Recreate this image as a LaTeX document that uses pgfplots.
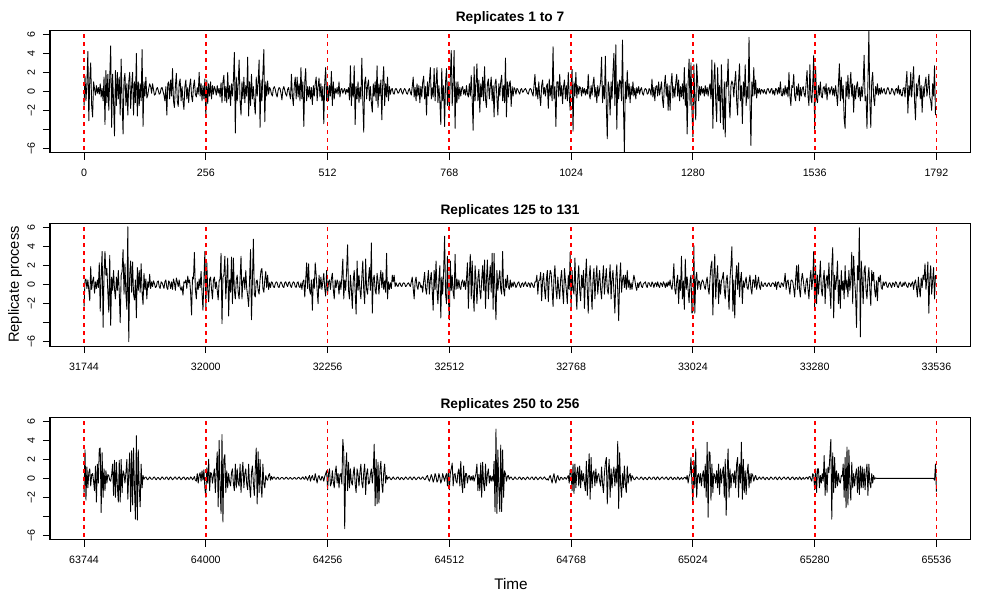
\documentclass[border=0pt]{standalone}
\usepackage{fontspec}
\setmainfont{Liberation Sans}
\usepackage{pgfplots}
\pgfplotsset{compat=1.18}
\definecolor{Rred}{RGB}{255,0,0}
\pgfplotsset{
  rpanel/.style={
    scale only axis, width=690pt, height=92pt, anchor=north west,
    ymin=-6.46, ymax=6.46,
    ytick={-6,-4,-2,0,2,4,6}, yticklabels={−6,,−2,0,2,4,6},
    xtick pos=left, ytick pos=left, scaled x ticks=false,
    tick align=outside, major tick length=5.25pt,
    tick style={black, line width=0.6pt},
    axis line style={black, line width=0.75pt},
    ticklabel style={font=\fontsize{8}{9}\selectfont},
    xticklabel style={yshift=-3.75pt},
    yticklabel style={xshift=-6pt, rotate=90, anchor=base},
    title style={font=\bfseries\fontsize{10.3}{12}\selectfont, at={(0.5,1)}, anchor=base, yshift=0.5pt},
  },
  rline/.style={draw=Rred, solid, dash pattern=on 3pt off 3pt, line width=1.35pt, forget plot},
  rdata/.style={black, line width=0.65pt, line join=round, mark=none},
}
\begin{document}
\begin{tikzpicture}
\path[use as bounding box] (0,0) rectangle (750pt,-450pt);
% ---------------- Panel 1 ----------------
\begin{axis}[rpanel, at={(37.5pt,-22.5pt)}, title={Replicates 1 to 7},
  xmin=-71.6, xmax=1862.6, xtick={0,256,512,768,1024,1280,1536,1792},
  xticklabels={0,256,512,768,1024,1280,1536,1792}]
\addplot[rdata] table[x expr=\coordindex*2, y index=0, header=false, row sep=\\] {
-1.5\\ 1.6\\ -1.0\\ 0.8\\ 4.2\\ -3.1\\ 1.2\\ 3.0\\
-1.5\\ -2.7\\ 1.0\\ 0.3\\ -0.4\\ 0.6\\ -0.2\\ 0.4\\
-0.3\\ 0.8\\ -0.6\\ 0.3\\ -1.0\\ 1.5\\ -3.5\\ 2.2\\
-1.2\\ 1.8\\ -2.0\\ 1.5\\ 4.8\\ -3.8\\ 1.8\\ -1.0\\
-4.7\\ 2.2\\ -1.5\\ 2.0\\ -0.8\\ 1.5\\ -2.5\\ 3.4\\
-1.0\\ -4.5\\ 1.2\\ 1.9\\ -1.5\\ 0.8\\ -2.5\\ 1.0\\
2.0\\ -1.8\\ 0.5\\ 2.0\\ -2.5\\ 1.0\\ -1.2\\ 4.0\\
-2.6\\ 1.0\\ -1.5\\ 0.8\\ -1.0\\ 4.4\\ -3.7\\ 1.0\\
-0.5\\ 1.5\\ -0.7\\ -0.4\\ 0.3\\ 0.8\\ 0.5\\ -0.2\\
0.8\\ 0.2\\ -0.4\\ -0.3\\ 0.2\\ 0.4\\ 0.1\\ -0.3\\
-0.2\\ 0.3\\ 0.4\\ 0.0\\ -0.4\\ -1.0\\ 0.5\\ -2.5\\
0.8\\ 1.0\\ -0.8\\ 1.2\\ -0.5\\ 2.4\\ -1.0\\ -1.7\\
0.5\\ 1.9\\ -1.0\\ -1.6\\ 0.8\\ 1.3\\ -1.0\\ 0.5\\
-1.0\\ -1.9\\ 0.5\\ 1.2\\ -0.8\\ 0.4\\ -1.2\\ 0.6\\
1.3\\ -0.5\\ -1.1\\ 0.5\\ 1.2\\ -0.3\\ -0.6\\ 0.4\\
-0.3\\ 2.0\\ -0.5\\ 0.8\\ -1.0\\ 0.6\\ -0.8\\ 1.3\\
-2.7\\ 1.2\\ -1.3\\ 0.8\\ -0.5\\ 1.0\\ -0.8\\ 0.6\\
-0.3\\ 0.5\\ 0.2\\ -0.4\\ 0.6\\ -0.2\\ 0.3\\ -0.6\\
0.9\\ -1.2\\ 1.0\\ 1.7\\ -1.0\\ 0.5\\ -1.2\\ 2.0\\
-0.8\\ 0.6\\ -1.5\\ 0.8\\ -0.5\\ 1.2\\ 4.1\\ -4.4\\
1.5\\ -1.0\\ 0.8\\ 3.3\\ -1.0\\ -2.5\\ 1.0\\ -0.8\\
1.5\\ -1.2\\ 0.6\\ -0.5\\ 3.6\\ -2.6\\ 1.0\\ -1.5\\
1.8\\ -0.8\\ 0.5\\ -1.2\\ -2.4\\ 1.5\\ -0.5\\ 1.0\\
3.3\\ -3.8\\ 1.2\\ -1.0\\ 2.0\\ 4.4\\ -3.2\\ 1.0\\
-0.5\\ 1.1\\ -0.3\\ 0.4\\ 0.2\\ -0.3\\ -0.5\\ 0.3\\
0.5\\ 0.2\\ -0.3\\ -0.6\\ 0.1\\ 0.4\\ 0.3\\ -0.2\\
-0.9\\ 0.2\\ 0.5\\ 0.1\\ -0.3\\ -0.5\\ 0.2\\ 0.4\\
-0.3\\ -0.8\\ 1.8\\ -0.5\\ -1.5\\ 0.6\\ 1.5\\ -0.8\\
1.5\\ -0.6\\ 0.8\\ -1.0\\ 2.5\\ -0.8\\ 1.0\\ -3.7\\
1.0\\ 2.4\\ -1.0\\ 0.5\\ -0.6\\ 0.5\\ -0.8\\ 0.4\\
-1.4\\ 0.6\\ -0.5\\ 0.8\\ 1.5\\ -1.0\\ 0.5\\ 1.4\\
-0.6\\ 0.8\\ -1.0\\ 0.5\\ -3.4\\ 1.0\\ 2.5\\ -1.0\\
0.8\\ -1.0\\ 0.6\\ -0.5\\ 2.1\\ -1.5\\ 1.0\\ -0.8\\
0.3\\ -0.2\\ 0.4\\ -0.3\\ 1.0\\ -0.6\\ 0.2\\ 0.3\\
-0.2\\ 0.1\\ 0.3\\ -0.3\\ 0.2\\ -0.1\\ 0.4\\ -0.9\\
2.7\\ -1.5\\ 0.8\\ -0.6\\ 2.7\\ -3.5\\ 0.5\\ -0.8\\
1.0\\ -1.2\\ 0.4\\ -0.8\\ 3.5\\ -1.0\\ -4.3\\ 1.0\\
1.5\\ -0.8\\ 0.6\\ 1.2\\ -1.0\\ 0.5\\ -1.2\\ -2.2\\
0.8\\ -0.5\\ 1.0\\ -1.0\\ 2.7\\ -1.7\\ 0.8\\ -0.5\\
1.2\\ -3.0\\ 1.0\\ 2.6\\ -1.5\\ 0.8\\ -0.6\\ 1.5\\
-1.0\\ 0.5\\ -0.3\\ 0.2\\ 0.3\\ -0.2\\ -0.3\\ 0.2\\
0.3\\ 0.1\\ -0.2\\ -0.1\\ 0.2\\ 0.3\\ -0.1\\ -0.3\\
0.1\\ 0.3\\ 0.1\\ -0.2\\ -0.3\\ 0.1\\ 0.3\\ -0.1\\
-0.4\\ 0.5\\ 1.5\\ -0.6\\ 0.4\\ -1.0\\ 0.8\\ -0.5\\
0.6\\ -1.2\\ 0.5\\ -0.6\\ 1.0\\ 1.6\\ -0.8\\ 0.5\\
-2.5\\ 1.0\\ -0.5\\ 1.0\\ 2.5\\ -0.8\\ 0.4\\ -0.6\\
2.4\\ -1.0\\ 0.8\\ 2.5\\ -1.2\\ 0.6\\ -1.0\\ -3.5\\
2.4\\ -1.0\\ 0.6\\ -3.7\\ 1.0\\ 2.4\\ -1.5\\ 1.0\\
-2.0\\ 1.5\\ 4.3\\ -1.5\\ 0.8\\ 4.3\\ -3.9\\ 1.0\\
-1.2\\ 1.0\\ -0.8\\ 0.4\\ -0.5\\ 0.3\\ 0.5\\ -0.3\\
0.2\\ -0.4\\ 0.6\\ -0.3\\ -0.6\\ 0.8\\ -0.5\\ 1.7\\
-0.8\\ -4.1\\ 2.6\\ -1.0\\ 0.8\\ 2.9\\ -1.0\\ 1.2\\
-2.2\\ 0.8\\ -0.6\\ 1.5\\ -1.0\\ 2.6\\ -0.8\\ -1.7\\
0.8\\ 1.3\\ -0.8\\ 0.5\\ 1.5\\ -1.0\\ 0.6\\ -2.7\\
0.8\\ 1.3\\ -0.7\\ -2.5\\ 0.8\\ -0.5\\ 1.0\\ 1.7\\
-1.0\\ 0.6\\ -1.2\\ 3.5\\ -2.7\\ 1.0\\ -0.6\\ 0.8\\
1.1\\ -1.6\\ 0.5\\ -0.5\\ 0.4\\ 0.2\\ -0.3\\ 0.3\\
0.2\\ -0.1\\ -0.3\\ 0.2\\ 0.3\\ -0.1\\ 0.0\\ 0.2\\
0.3\\ 0.1\\ -0.2\\ -0.3\\ 0.1\\ 0.3\\ 0.2\\ -0.2\\
-0.5\\ 0.6\\ 1.8\\ -0.5\\ 0.4\\ -0.8\\ 1.0\\ -0.5\\
-1.5\\ 0.6\\ 1.2\\ -0.3\\ 0.4\\ -0.5\\ 0.5\\ 0.8\\
-1.8\\ 1.3\\ -0.5\\ 0.6\\ -1.0\\ 4.7\\ -0.8\\ 0.5\\
-3.7\\ 1.0\\ 1.0\\ -0.6\\ 1.8\\ -0.5\\ 0.6\\ -1.3\\
0.5\\ 1.2\\ -0.8\\ 0.6\\ -1.0\\ 2.0\\ -0.5\\ -2.0\\
0.8\\ 2.3\\ -4.2\\ 1.0\\ -0.5\\ 2.0\\ -0.7\\ 0.6\\
-0.3\\ 0.5\\ 0.3\\ -0.5\\ 0.4\\ -0.2\\ 0.3\\ -0.4\\
0.2\\ -0.3\\ 1.8\\ -0.3\\ -0.8\\ 0.6\\ -0.4\\ 0.8\\
1.5\\ -0.6\\ 0.4\\ -1.2\\ 0.6\\ -0.5\\ 0.3\\ 1.0\\
3.6\\ -1.2\\ 0.6\\ -0.8\\ 3.7\\ -1.5\\ -5.0\\ 1.0\\
0.3\\ -2.5\\ 1.0\\ -0.8\\ 2.0\\ 4.0\\ -1.5\\ 4.9\\
-4.0\\ 1.0\\ -0.8\\ 1.2\\ 1.0\\ -1.0\\ 5.4\\ -1.5\\
-6.4\\ 1.0\\ -0.8\\ 2.2\\ -0.6\\ 0.8\\ -1.2\\ 0.5\\
-0.4\\ 1.0\\ -0.5\\ 0.3\\ -0.8\\ 0.4\\ -0.2\\ 0.5\\
-0.3\\ 0.2\\ 0.4\\ -0.2\\ -0.4\\ 0.1\\ 0.3\\ 0.2\\
-0.3\\ -0.2\\ 0.3\\ 0.1\\ -0.4\\ 1.3\\ -0.6\\ 0.4\\
-1.0\\ 0.5\\ 0.6\\ -0.5\\ 1.0\\ -0.4\\ 0.3\\ 1.0\\
-0.8\\ -1.7\\ 0.6\\ 1.7\\ -0.5\\ 0.8\\ -2.0\\ 0.6\\
-2.0\\ 0.8\\ 1.9\\ -0.7\\ 0.5\\ -0.6\\ 0.9\\ 1.8\\
-0.5\\ 1.2\\ -1.0\\ 0.5\\ -0.6\\ 0.8\\ -0.8\\ 2.5\\
-1.5\\ 0.8\\ -4.5\\ 1.0\\ 3.4\\ -1.5\\ 3.0\\ -2.0\\
-4.8\\ 2.8\\ -1.0\\ -3.0\\ 2.9\\ 1.0\\ -1.0\\ 0.5\\
-0.4\\ 0.5\\ -0.2\\ 0.3\\ -0.5\\ 0.6\\ -0.3\\ 0.4\\
-0.5\\ 0.3\\ 0.8\\ -0.8\\ 3.3\\ -3.9\\ 1.0\\ 3.0\\
-1.0\\ -3.2\\ 2.5\\ -1.0\\ 0.6\\ -3.3\\ 2.8\\ -1.0\\
-4.0\\ 1.0\\ -4.8\\ 1.0\\ 0.5\\ 3.4\\ -1.0\\ -2.8\\
0.6\\ 1.1\\ 0.8\\ -0.6\\ 1.0\\ 2.1\\ -1.0\\ -2.5\\
1.0\\ 2.9\\ -1.0\\ 0.6\\ -3.4\\ 1.0\\ -0.6\\ 2.8\\
-1.5\\ 0.5\\ -0.8\\ 5.7\\ -1.0\\ -5.7\\ 1.0\\ -0.5\\
2.5\\ -0.4\\ 1.2\\ -0.7\\ 0.3\\ -0.2\\ 0.3\\ -0.3\\
0.2\\ 0.1\\ -0.2\\ 0.2\\ -0.1\\ -0.3\\ 0.2\\ 0.3\\
0.0\\ -0.2\\ 0.2\\ 0.3\\ -0.3\\ 0.1\\ -0.4\\ 0.3\\
0.2\\ -0.3\\ 0.4\\ -0.2\\ 1.0\\ -0.4\\ -0.5\\ 0.3\\
-0.4\\ 0.6\\ -0.3\\ 0.4\\ -0.6\\ 2.0\\ -0.5\\ -1.5\\
0.6\\ 0.4\\ 1.8\\ -0.5\\ -1.0\\ 0.5\\ -0.4\\ 0.8\\
-1.0\\ 0.4\\ -0.5\\ 0.3\\ 0.5\\ -0.3\\ -0.6\\ 0.8\\
2.2\\ -0.5\\ -1.5\\ 2.8\\ -0.6\\ -1.2\\ 0.8\\ 3.8\\
-4.0\\ 2.6\\ -0.8\\ -1.2\\ 0.6\\ -0.4\\ 1.0\\ -0.5\\
-0.7\\ 0.4\\ 0.5\\ -0.3\\ 0.8\\ -0.9\\ 0.3\\ 0.4\\
-0.3\\ 0.2\\ 0.5\\ -0.4\\ 0.3\\ -0.5\\ 0.6\\ -0.3\\
-1.5\\ 0.8\\ 2.9\\ -1.0\\ 1.5\\ -0.8\\ 0.6\\ -2.9\\
-3.9\\ 1.0\\ -0.6\\ 1.7\\ -0.8\\ 0.5\\ 2.0\\ -0.5\\
0.8\\ -2.2\\ 0.6\\ -0.8\\ 0.5\\ 1.0\\ -0.6\\ 0.4\\
-1.0\\ 0.5\\ -0.6\\ 0.8\\ 3.8\\ -1.0\\ -0.5\\ -3.9\\
1.0\\ 6.3\\ -1.0\\ -3.8\\ 1.0\\ 2.0\\ -0.6\\ -1.5\\
0.5\\ -0.3\\ 0.8\\ -0.4\\ 0.3\\ -0.3\\ 0.4\\ -0.2\\
0.1\\ 0.3\\ -0.2\\ -0.3\\ 0.2\\ 0.4\\ 0.1\\ -0.3\\
-0.2\\ 0.3\\ 0.2\\ -0.1\\ -0.4\\ 0.2\\ 0.3\\ -0.2\\
0.6\\ -0.3\\ 0.2\\ -0.4\\ -0.5\\ 0.3\\ 0.4\\ -0.6\\
0.8\\ 2.1\\ -2.3\\ 0.6\\ -0.5\\ 2.0\\ -0.6\\ 1.0\\
2.6\\ -1.0\\ -3.0\\ 0.8\\ -0.5\\ 1.0\\ 1.7\\ -0.8\\
0.6\\ -2.2\\ 0.5\\ -0.6\\ 0.8\\ 1.5\\ -0.5\\ 0.4\\
1.8\\ -0.6\\ -1.0\\ -2.0\\ 0.8\\ -0.5\\ 2.7\\ -2.5\\
};
\addplot[rline] coordinates {(0,-7) (0,7)};
\addplot[rline] coordinates {(256,-7) (256,7)};
\addplot[rline] coordinates {(512,-7) (512,7)};
\addplot[rline] coordinates {(768,-7) (768,7)};
\addplot[rline] coordinates {(1024,-7) (1024,7)};
\addplot[rline] coordinates {(1280,-7) (1280,7)};
\addplot[rline] coordinates {(1536,-7) (1536,7)};
\addplot[rline] coordinates {(1792,-7) (1792,7)};
\end{axis}
% ---------------- Panel 2 ----------------
\begin{axis}[rpanel, at={(37.5pt,-167.5pt)}, title={Replicates 125 to 131},
  xmin=31672.4, xmax=33606.6, xtick={31744,32000,32256,32512,32768,33024,33280,33536},
  xticklabels={31744,32000,32256,32512,32768,33024,33280,33536}]
\addplot[rdata] table[x expr=31744+\coordindex*2, y index=0, header=false, row sep=\\] {
-2.3\\ 0.5\\ 0.6\\ -0.4\\ 0.5\\ -0.6\\ -1.7\\ 1.9\\
-0.5\\ 0.4\\ 0.8\\ -0.9\\ 0.3\\ -0.4\\ 0.5\\ -0.3\\
2.3\\ -2.8\\ 1.0\\ 3.5\\ -4.5\\ 1.0\\ 3.5\\ 1.0\\
1.7\\ -0.8\\ -2.9\\ 3.1\\ -4.3\\ 0.8\\ -0.6\\ 1.5\\
-0.5\\ -1.5\\ 0.8\\ -0.6\\ 1.5\\ -0.8\\ -4.0\\ 1.0\\
1.4\\ 3.7\\ -1.0\\ 2.2\\ -1.0\\ -2.6\\ 6.1\\ -6.0\\
1.0\\ 2.5\\ -0.8\\ 2.4\\ -1.0\\ -1.6\\ 0.5\\ -3.5\\
1.8\\ -0.6\\ 1.5\\ -0.8\\ 2.2\\ -0.8\\ -2.1\\ 1.2\\
-0.5\\ 0.6\\ -1.5\\ 0.3\\ -0.3\\ 1.1\\ -0.4\\ 0.3\\
-0.2\\ 0.4\\ 0.1\\ -0.3\\ -0.2\\ 0.3\\ 0.4\\ -0.2\\
-0.4\\ 0.3\\ 0.2\\ -0.1\\ -0.4\\ 0.3\\ 0.5\\ -0.3\\
-0.5\\ 0.4\\ 0.2\\ -0.4\\ 0.3\\ -0.5\\ 0.6\\ 0.2\\
-0.6\\ 0.7\\ 0.3\\ -0.2\\ 0.5\\ -0.3\\ -0.6\\ -0.2\\
-1.1\\ 0.3\\ 0.2\\ 0.5\\ -0.4\\ 0.9\\ 0.2\\ 0.5\\
-0.8\\ -3.2\\ 0.8\\ 0.6\\ 3.4\\ -0.5\\ -1.5\\ 0.3\\
-0.5\\ 0.6\\ -0.3\\ 1.4\\ -0.8\\ -2.7\\ 0.5\\ 3.5\\
-2.7\\ 2.4\\ -0.5\\ -1.8\\ 0.6\\ 0.8\\ -0.5\\ -1.5\\
0.5\\ 0.8\\ -0.4\\ 0.3\\ -0.6\\ -1.6\\ 0.4\\ 0.6\\
3.3\\ -4.1\\ 0.8\\ 1.0\\ 3.0\\ -1.5\\ 0.6\\ 2.8\\
-3.3\\ 0.5\\ -0.8\\ 2.9\\ -2.0\\ 2.8\\ -0.6\\ -1.5\\
0.5\\ 1.0\\ -0.8\\ -1.5\\ 0.6\\ 3.0\\ -1.5\\ 0.4\\
0.8\\ -0.5\\ 1.5\\ -0.4\\ -1.2\\ -2.3\\ 0.6\\ 3.7\\
-3.7\\ 0.5\\ 4.8\\ -1.0\\ -1.3\\ 0.4\\ 0.5\\ -0.6\\
-1.0\\ 0.5\\ 1.5\\ 1.7\\ -0.4\\ -0.8\\ 0.5\\ 1.4\\
-0.3\\ 1.0\\ -0.5\\ 0.2\\ -0.3\\ 0.3\\ 0.2\\ -0.2\\
-0.3\\ 0.1\\ 0.3\\ 0.2\\ -0.2\\ -0.3\\ 0.1\\ 0.3\\
0.1\\ -0.2\\ -0.3\\ 0.2\\ 0.3\\ 0.0\\ -0.2\\ 0.2\\
0.3\\ -0.1\\ -0.3\\ 0.1\\ 0.3\\ 0.2\\ -0.2\\ -0.3\\
0.2\\ 0.3\\ -0.2\\ -0.3\\ 0.2\\ -0.5\\ 0.3\\ 0.5\\
-1.3\\ 0.5\\ 2.3\\ -0.4\\ 2.2\\ -0.5\\ -1.0\\ 0.5\\
-2.7\\ 0.6\\ -0.4\\ 2.3\\ 1.0\\ -0.6\\ -2.0\\ 1.0\\
-0.4\\ 0.8\\ -0.5\\ 0.3\\ 1.2\\ -0.4\\ -1.2\\ 1.5\\
-1.0\\ 0.3\\ 0.5\\ -0.5\\ 0.6\\ 1.2\\ -0.5\\ -1.5\\
0.5\\ -0.3\\ 0.5\\ 0.2\\ -1.0\\ 0.4\\ -0.5\\ 0.8\\
2.7\\ -1.5\\ 0.5\\ -0.6\\ 1.5\\ 4.2\\ -0.6\\ -1.5\\
1.0\\ -0.5\\ -2.5\\ 0.5\\ 1.5\\ -0.8\\ -3.1\\ 2.5\\
-0.6\\ 1.0\\ -0.5\\ -1.5\\ 0.8\\ 2.5\\ -0.6\\ -2.0\\
2.7\\ -0.5\\ -1.0\\ 0.6\\ 1.8\\ -0.6\\ 4.4\\ -3.0\\
0.5\\ 1.0\\ -0.6\\ -1.0\\ 1.2\\ 0.4\\ -1.0\\ 0.5\\
1.5\\ -0.3\\ 1.3\\ -0.5\\ 0.4\\ -0.8\\ 3.3\\ -1.5\\
0.3\\ -0.5\\ 0.2\\ -0.4\\ 1.0\\ 0.3\\ 1.0\\ -0.2\\
0.2\\ -0.1\\ -0.2\\ 0.1\\ 0.2\\ -0.1\\ -0.2\\ 0.1\\
0.2\\ 0.1\\ -0.2\\ -0.1\\ 0.1\\ 0.2\\ 0.0\\ -0.2\\
0.3\\ 0.8\\ -0.4\\ -1.5\\ 0.3\\ 0.8\\ -0.2\\ -0.5\\
0.3\\ 0.2\\ -0.3\\ -0.1\\ -0.8\\ 0.4\\ 1.3\\ -0.4\\
-1.0\\ 0.4\\ 1.5\\ -1.0\\ 0.5\\ 1.3\\ -0.6\\ -2.7\\
1.5\\ -0.5\\ 2.5\\ -0.5\\ -2.0\\ 0.6\\ 2.0\\ -3.5\\
0.8\\ -1.0\\ 1.5\\ 5.1\\ -1.0\\ -2.0\\ 3.0\\ -1.5\\
-3.7\\ 2.5\\ -0.6\\ 1.0\\ -0.8\\ -1.5\\ 3.2\\ -0.5\\
0.6\\ -0.4\\ 0.5\\ -0.3\\ -0.5\\ 0.3\\ 0.5\\ -0.2\\
0.4\\ -0.5\\ 0.6\\ 2.3\\ -2.5\\ 1.0\\ 3.2\\ -1.5\\
2.5\\ -0.8\\ -2.8\\ 2.0\\ 0.5\\ -2.0\\ 0.6\\ 1.6\\
-0.6\\ -1.5\\ 0.5\\ 2.0\\ -0.6\\ 2.6\\ -2.5\\ 0.6\\
2.6\\ -1.5\\ 0.5\\ 2.0\\ -0.8\\ 3.3\\ -2.6\\ 3.3\\
-0.8\\ -3.7\\ 1.5\\ -0.6\\ 0.6\\ 1.5\\ -0.5\\ -1.0\\
3.5\\ -0.5\\ -1.2\\ 0.6\\ -0.3\\ 1.0\\ -0.2\\ -0.5\\
0.5\\ -0.3\\ 0.2\\ -0.2\\ 0.3\\ 0.1\\ -0.3\\ -0.1\\
0.2\\ 0.3\\ -0.1\\ -0.3\\ 0.1\\ 0.2\\ -0.2\\ 0.1\\
0.3\\ -0.1\\ -0.2\\ 0.2\\ 0.1\\ -0.3\\ 0.2\\ 0.1\\
-0.2\\ -0.3\\ 0.3\\ 0.3\\ 1.0\\ -1.0\\ 0.4\\ 0.5\\
1.3\\ -1.7\\ 0.4\\ 1.2\\ -0.5\\ -1.5\\ 0.6\\ 1.5\\
-1.8\\ 0.5\\ 1.5\\ 1.2\\ -0.5\\ -2.3\\ 0.8\\ 2.0\\
-0.5\\ -1.5\\ 0.8\\ -0.5\\ -1.5\\ 0.6\\ 1.5\\ -0.6\\
-2.0\\ 1.7\\ 0.5\\ -0.6\\ -2.0\\ 1.0\\ -0.5\\ 3.4\\
-2.5\\ 1.5\\ -0.5\\ -1.0\\ 2.8\\ -0.6\\ -2.6\\ 0.5\\
2.0\\ -0.6\\ -1.7\\ 1.0\\ -0.3\\ 1.5\\ -2.5\\ 0.5\\
2.7\\ -0.5\\ -3.0\\ 0.8\\ 2.0\\ -0.6\\ -2.6\\ 0.5\\
1.7\\ -1.5\\ 0.5\\ 2.0\\ -1.0\\ 0.4\\ 1.5\\ -0.5\\
-1.5\\ 0.6\\ 2.0\\ -1.0\\ 0.5\\ 1.7\\ -0.5\\ -1.0\\
0.5\\ 2.1\\ -1.5\\ 0.6\\ 1.5\\ -0.8\\ -3.0\\ 0.6\\
2.1\\ -0.6\\ -3.8\\ 0.6\\ 2.3\\ -0.8\\ 0.5\\ 1.0\\
-0.3\\ 1.0\\ -0.5\\ 1.5\\ -0.3\\ 0.5\\ -0.5\\ 0.2\\
-0.5\\ 0.3\\ 1.0\\ 0.5\\ -0.2\\ -0.6\\ 0.2\\ -0.3\\
0.2\\ 0.3\\ -0.2\\ -0.3\\ 0.1\\ 0.2\\ 0.3\\ -0.1\\
-0.3\\ 0.2\\ 0.2\\ -0.1\\ -0.2\\ 0.3\\ 0.1\\ -0.3\\
0.1\\ 0.2\\ -0.2\\ 0.3\\ -0.1\\ -0.3\\ 0.2\\ 0.1\\
-0.2\\ 0.3\\ 0.1\\ -0.3\\ 0.2\\ -0.2\\ 0.3\\ -0.1\\
0.5\\ -0.2\\ -0.5\\ 0.4\\ 2.2\\ -0.5\\ -1.0\\ 0.4\\
1.0\\ -2.0\\ 0.5\\ -0.6\\ 3.0\\ -1.5\\ 0.4\\ -2.6\\
2.7\\ -0.5\\ 0.8\\ -0.6\\ -1.9\\ 0.4\\ 1.0\\ -3.0\\
-2.8\\ 4.1\\ -3.0\\ 0.6\\ 1.3\\ -0.5\\ 0.4\\ 0.3\\
-0.5\\ 0.2\\ 0.5\\ 0.3\\ -0.2\\ -0.5\\ 0.3\\ 0.8\\
-0.4\\ -1.0\\ 0.6\\ 2.0\\ 2.5\\ -3.2\\ 0.8\\ 3.2\\
-1.5\\ 0.6\\ 2.0\\ -2.0\\ 0.5\\ -1.0\\ 0.4\\ 0.7\\
1.3\\ -0.5\\ -1.5\\ 0.4\\ 1.0\\ -0.6\\ -2.6\\ 0.6\\
2.0\\ 4.0\\ -2.8\\ 0.5\\ -3.5\\ 0.6\\ 2.0\\ -0.5\\
2.3\\ -1.3\\ 0.5\\ 1.3\\ -2.0\\ 0.4\\ -0.3\\ 0.3\\
0.8\\ -0.3\\ -0.5\\ 0.3\\ 1.0\\ -0.4\\ -1.0\\ 0.5\\
0.5\\ -0.3\\ 1.0\\ -0.5\\ 0.2\\ 0.8\\ -0.2\\ -0.5\\
0.3\\ -0.1\\ -0.2\\ 0.1\\ 0.2\\ -0.1\\ -0.2\\ 0.1\\
0.2\\ -0.1\\ -0.2\\ 0.1\\ 0.2\\ 0.1\\ -0.2\\ 0.3\\
-0.5\\ 0.2\\ 0.3\\ -0.2\\ -0.3\\ 0.2\\ 0.1\\ -0.2\\
0.3\\ 1.2\\ -0.5\\ 0.3\\ 0.5\\ -0.3\\ -1.0\\ 0.4\\
0.5\\ 0.3\\ -0.4\\ -1.3\\ 0.6\\ 2.0\\ -0.5\\ 2.1\\
-0.5\\ -1.3\\ 0.4\\ 1.2\\ 0.5\\ -0.4\\ -1.0\\ 0.3\\
0.7\\ -0.5\\ -1.5\\ 0.5\\ 1.5\\ -0.5\\ 0.6\\ 3.5\\
-2.6\\ 2.0\\ -2.0\\ 1.0\\ -1.0\\ 0.5\\ 2.5\\ -0.5\\
-1.2\\ 0.5\\ 1.5\\ -2.0\\ 0.5\\ 1.0\\ -0.4\\ 2.3\\
-0.6\\ -2.5\\ 2.0\\ 3.9\\ -3.5\\ 1.0\\ -0.5\\ 0.6\\
2.5\\ -2.0\\ 0.5\\ -2.5\\ 1.5\\ -0.6\\ 0.4\\ -1.5\\
2.0\\ -0.5\\ 0.5\\ -1.3\\ 1.5\\ -0.6\\ 0.5\\ 3.4\\
-2.0\\ 3.0\\ 0.5\\ -1.0\\ -4.5\\ 2.0\\ 0.5\\ 6.0\\
-5.5\\ 2.5\\ 0.5\\ -2.0\\ 1.5\\ 2.0\\ -0.6\\ -1.5\\
0.6\\ 1.8\\ -0.5\\ -2.2\\ 1.5\\ 0.4\\ 1.3\\ -0.5\\
-1.3\\ 0.4\\ -1.7\\ 0.8\\ 0.3\\ 1.0\\ -0.3\\ -0.5\\
0.3\\ -0.1\\ 0.2\\ 0.3\\ -0.2\\ -0.3\\ 0.1\\ 0.2\\
-0.1\\ -0.3\\ 0.2\\ 0.1\\ -0.2\\ 0.3\\ 0.2\\ -0.2\\
-0.3\\ 0.1\\ 0.3\\ -0.1\\ -0.2\\ 0.2\\ -0.1\\ 0.3\\
0.1\\ -0.2\\ -0.3\\ 0.2\\ 0.1\\ -0.2\\ 0.1\\ 0.3\\
-0.5\\ 0.2\\ 0.5\\ -0.3\\ -1.3\\ 0.8\\ -0.4\\ -1.3\\
0.7\\ -0.3\\ 1.0\\ 0.5\\ 2.2\\ -0.5\\ 0.6\\ 2.4\\
-3.0\\ 0.6\\ 2.0\\ -1.0\\ 0.4\\ 1.8\\ -1.5\\ 1.0\\
};
\addplot[rline] coordinates {(31744,-7) (31744,7)};
\addplot[rline] coordinates {(32000,-7) (32000,7)};
\addplot[rline] coordinates {(32256,-7) (32256,7)};
\addplot[rline] coordinates {(32512,-7) (32512,7)};
\addplot[rline] coordinates {(32768,-7) (32768,7)};
\addplot[rline] coordinates {(33024,-7) (33024,7)};
\addplot[rline] coordinates {(33280,-7) (33280,7)};
\addplot[rline] coordinates {(33536,-7) (33536,7)};
\end{axis}
% ---------------- Panel 3 ----------------
\begin{axis}[rpanel, at={(37.5pt,-312.75pt)}, title={Replicates 250 to 256},
  xmin=63672.4, xmax=65606.6, xtick={63744,64000,64256,64512,64768,65024,65280,65536},
  xticklabels={63744,64000,64256,64512,64768,65024,65280,65536}]
\addplot[rdata] table[x expr=63744+\coordindex*2, y index=0, header=false, row sep=\\] {
-1.5\\ 3.0\\ -2.3\\ 1.2\\ -1.0\\ 0.6\\ 1.0\\ -0.8\\
0.4\\ 0.5\\ -0.3\\ -1.3\\ 1.3\\ -2.5\\ 1.5\\ -0.5\\
3.1\\ 3.2\\ -3.6\\ 2.7\\ -2.0\\ 1.0\\ -1.3\\ 0.8\\
-0.5\\ 0.4\\ 0.3\\ -0.2\\ -0.3\\ 0.4\\ 1.5\\ -1.8\\
1.9\\ -2.0\\ 1.7\\ -0.8\\ -2.5\\ 1.9\\ -2.5\\ 2.0\\
-1.5\\ 0.8\\ 0.5\\ -0.5\\ 0.6\\ 2.0\\ -2.2\\ 0.6\\
2.7\\ -3.5\\ 2.9\\ -2.8\\ 3.2\\ -1.0\\ -4.3\\ 4.5\\
-4.4\\ 3.0\\ -1.0\\ -3.0\\ 1.5\\ -1.0\\ 0.3\\ -0.1\\
0.1\\ 0.15\\ -0.05\\ -0.15\\ 0.0\\ 0.15\\ 0.0\\ -0.1\\
-0.1\\ 0.1\\ 0.15\\ -0.05\\ -0.15\\ 0.05\\ 0.1\\ -0.05\\
-0.15\\ 0.0\\ 0.15\\ 0.05\\ -0.1\\ -0.1\\ 0.1\\ 0.15\\
-0.05\\ -0.15\\ 0.05\\ 0.15\\ 0.0\\ -0.15\\ -0.05\\ 0.1\\
0.15\\ -0.05\\ -0.1\\ 0.05\\ 0.15\\ 0.0\\ -0.15\\ -0.05\\
0.1\\ 0.15\\ -0.05\\ -0.15\\ 0.05\\ 0.1\\ -0.1\\ -0.1\\
0.15\\ 0.05\\ -0.15\\ 0.0\\ 0.2\\ -0.2\\ -0.3\\ 0.5\\
-0.5\\ 0.3\\ 0.6\\ -0.3\\ 0.8\\ -0.2\\ 0.9\\ -1.0\\
-2.0\\ 1.1\\ -0.5\\ 2.0\\ -1.3\\ 0.6\\ 0.5\\ -0.5\\
0.3\\ 1.0\\ -1.5\\ 0.8\\ 2.8\\ -3.0\\ 4.0\\ -1.0\\
-3.7\\ 4.6\\ -4.6\\ 2.0\\ 2.5\\ -1.5\\ 0.8\\ -1.0\\
0.5\\ -0.4\\ -0.8\\ 0.6\\ 1.0\\ -0.6\\ -1.3\\ 1.5\\
-1.0\\ 1.0\\ -0.5\\ -0.8\\ 1.5\\ -1.5\\ 0.6\\ 1.7\\
-1.0\\ 0.5\\ 1.0\\ -0.6\\ -1.2\\ 1.5\\ -0.8\\ -2.0\\
0.6\\ 1.3\\ -0.5\\ -1.8\\ 1.0\\ 3.2\\ -2.7\\ 2.8\\
-1.5\\ 2.0\\ -0.8\\ -2.0\\ 1.5\\ -0.5\\ -1.0\\ 0.3\\
-0.1\\ -0.2\\ 0.3\\ 0.5\\ -0.2\\ 0.2\\ -0.1\\ 0.1\\
0.15\\ -0.05\\ -0.1\\ 0.1\\ 0.1\\ -0.1\\ -0.1\\ 0.05\\
0.1\\ 0.05\\ -0.1\\ -0.05\\ 0.1\\ 0.1\\ -0.05\\ -0.1\\
0.05\\ 0.1\\ -0.05\\ -0.1\\ 0.0\\ 0.1\\ 0.05\\ -0.1\\
-0.05\\ 0.1\\ 0.1\\ -0.05\\ -0.1\\ 0.05\\ 0.15\\ -0.05\\
-0.1\\ 0.2\\ 0.0\\ -0.2\\ 0.1\\ 0.3\\ -0.3\\ 0.1\\
0.3\\ -0.1\\ -0.2\\ 0.5\\ 0.0\\ -0.5\\ 0.1\\ 0.3\\
-0.1\\ -0.2\\ 0.2\\ 0.1\\ -0.3\\ 0.2\\ 0.5\\ 0.8\\
-1.2\\ 0.5\\ 1.0\\ -0.8\\ -0.5\\ 0.8\\ -0.4\\ -1.0\\
0.6\\ 1.3\\ -0.5\\ 0.5\\ -1.0\\ 0.4\\ 0.5\\ -0.6\\
4.1\\ 2.8\\ -5.3\\ 1.0\\ 2.7\\ -1.3\\ 1.7\\ -1.0\\
1.0\\ -0.4\\ -0.7\\ 0.5\\ 1.2\\ -0.6\\ -1.5\\ 1.0\\
0.4\\ -0.8\\ 0.6\\ 1.5\\ -0.5\\ -1.0\\ 0.6\\ 1.5\\
-1.7\\ 0.5\\ 1.0\\ -0.6\\ -0.5\\ 0.4\\ 1.0\\ -0.5\\
0.8\\ 3.6\\ -2.9\\ 2.0\\ -2.7\\ 1.7\\ -2.6\\ 0.8\\
1.8\\ -0.6\\ -1.5\\ 0.6\\ 1.5\\ -0.5\\ 0.3\\ -0.1\\
0.1\\ 0.15\\ -0.05\\ -0.15\\ 0.0\\ 0.15\\ 0.0\\ -0.1\\
-0.1\\ 0.1\\ 0.15\\ -0.05\\ -0.15\\ 0.05\\ 0.1\\ -0.05\\
-0.15\\ 0.0\\ 0.15\\ 0.05\\ -0.1\\ -0.1\\ 0.1\\ 0.15\\
-0.05\\ -0.15\\ 0.05\\ 0.15\\ 0.0\\ -0.15\\ -0.05\\ 0.1\\
0.15\\ -0.05\\ -0.1\\ 0.05\\ 0.15\\ 0.0\\ -0.15\\ -0.05\\
0.2\\ 0.3\\ -0.1\\ -0.3\\ 0.0\\ 0.4\\ 0.1\\ -0.4\\
-0.1\\ 0.5\\ 0.2\\ -0.4\\ -0.2\\ 0.5\\ 0.1\\ -0.5\\
-0.2\\ 0.5\\ 0.1\\ -0.3\\ 0.2\\ 0.5\\ -0.8\\ 0.9\\
-1.2\\ 0.5\\ 1.0\\ 1.6\\ -0.8\\ 0.4\\ 0.5\\ -0.3\\
-0.5\\ 0.6\\ 1.0\\ -0.8\\ 1.8\\ -0.5\\ -1.5\\ 1.3\\
-1.0\\ 0.5\\ 0.5\\ -0.5\\ 0.2\\ 0.3\\ -0.2\\ 0.2\\
-0.2\\ 0.3\\ -0.3\\ 0.1\\ 0.5\\ 1.5\\ -1.3\\ 0.4\\
-1.3\\ 1.6\\ -2.0\\ 1.7\\ -0.6\\ -1.3\\ 1.5\\ -0.8\\
0.4\\ 1.0\\ -0.5\\ 0.3\\ -0.3\\ 0.2\\ -0.3\\ 1.8\\
-3.5\\ 5.2\\ -3.7\\ 3.0\\ -1.0\\ -3.5\\ 3.5\\ -3.5\\
3.0\\ -2.0\\ 0.8\\ 0.5\\ -0.3\\ 0.2\\ 0.3\\ -0.1\\
0.1\\ 0.15\\ -0.05\\ -0.15\\ 0.0\\ 0.15\\ 0.0\\ -0.1\\
-0.1\\ 0.1\\ 0.15\\ -0.05\\ -0.15\\ 0.05\\ 0.1\\ -0.05\\
-0.15\\ 0.0\\ 0.15\\ 0.05\\ -0.1\\ -0.1\\ 0.1\\ 0.15\\
-0.05\\ -0.15\\ 0.05\\ 0.15\\ 0.0\\ -0.15\\ -0.05\\ 0.1\\
0.15\\ -0.05\\ -0.1\\ 0.05\\ 0.15\\ 0.0\\ -0.15\\ -0.05\\
-0.2\\ 0.1\\ 0.3\\ -0.1\\ -0.5\\ 0.1\\ 0.5\\ -0.2\\
-0.5\\ 0.1\\ 0.3\\ -0.1\\ -0.2\\ 0.1\\ 0.1\\ -0.1\\
-0.1\\ 0.1\\ 0.05\\ -0.1\\ 0.1\\ 0.3\\ -0.5\\ 0.9\\
0.5\\ -1.3\\ 1.5\\ -1.6\\ 1.5\\ -1.0\\ 0.6\\ 1.2\\
-0.8\\ 1.3\\ -1.0\\ 0.8\\ -0.3\\ 0.5\\ -0.5\\ -1.3\\
1.8\\ -1.8\\ 0.5\\ 2.6\\ -2.2\\ 2.2\\ -1.0\\ 0.5\\
0.8\\ -0.8\\ 1.0\\ -0.5\\ 0.3\\ 0.5\\ -0.3\\ -0.8\\
1.2\\ -0.6\\ -1.5\\ 0.5\\ 1.6\\ 2.2\\ -2.7\\ 0.5\\
2.0\\ -2.0\\ 1.0\\ -1.0\\ 0.5\\ 1.2\\ -0.8\\ 1.0\\
-0.5\\ 3.9\\ -3.2\\ 2.7\\ -0.6\\ -2.0\\ 0.5\\ -1.0\\
1.3\\ -0.6\\ -1.5\\ 1.3\\ -0.5\\ 0.3\\ 0.5\\ -0.3\\
0.3\\ 0.1\\ -0.1\\ -0.15\\ 0.05\\ 0.15\\ 0.0\\ -0.1\\
-0.1\\ 0.1\\ 0.15\\ -0.05\\ -0.15\\ 0.05\\ 0.1\\ -0.05\\
-0.15\\ 0.0\\ 0.15\\ 0.05\\ -0.1\\ -0.1\\ 0.1\\ 0.15\\
-0.05\\ -0.15\\ 0.05\\ 0.15\\ 0.0\\ -0.15\\ -0.05\\ 0.1\\
0.15\\ -0.05\\ -0.1\\ 0.05\\ 0.15\\ 0.0\\ -0.15\\ -0.05\\
0.1\\ 0.15\\ -0.05\\ -0.15\\ 0.05\\ 0.1\\ -0.1\\ -0.1\\
0.15\\ 0.05\\ -0.15\\ 0.0\\ 0.1\\ -0.1\\ -0.05\\ 0.1\\
0.1\\ -0.1\\ 0.3\\ -0.5\\ 0.2\\ 0.5\\ 2.2\\ -0.6\\
-2.7\\ 1.9\\ -1.0\\ 3.1\\ -2.0\\ 0.3\\ 0.5\\ -0.5\\
0.5\\ -0.8\\ 0.3\\ 0.8\\ -1.0\\ 1.5\\ -2.0\\ 3.8\\
-4.1\\ 2.8\\ 2.7\\ -2.3\\ 1.5\\ -1.5\\ 0.5\\ 0.3\\
-0.5\\ 0.8\\ -1.0\\ 1.5\\ -1.7\\ 1.0\\ -0.5\\ 0.6\\
1.2\\ -2.0\\ 2.0\\ -3.9\\ 0.5\\ 3.1\\ -2.0\\ 1.0\\
-1.0\\ 0.4\\ 0.5\\ -0.5\\ 0.8\\ -1.0\\ 1.5\\ 2.2\\
-2.0\\ 1.5\\ -0.5\\ 3.8\\ -2.2\\ 2.0\\ -1.5\\ 0.8\\
-1.7\\ 0.6\\ 1.5\\ -1.0\\ 0.5\\ -0.5\\ 0.5\\ 0.3\\
-0.3\\ 0.1\\ 0.3\\ -0.1\\ -0.15\\ 0.05\\ 0.15\\ -0.05\\
-0.1\\ 0.1\\ 0.15\\ -0.05\\ -0.15\\ 0.05\\ 0.1\\ -0.05\\
-0.15\\ 0.0\\ 0.15\\ 0.05\\ -0.1\\ -0.1\\ 0.1\\ 0.15\\
-0.05\\ -0.15\\ 0.05\\ 0.15\\ 0.0\\ -0.15\\ -0.05\\ 0.1\\
0.15\\ -0.05\\ -0.1\\ 0.05\\ 0.15\\ 0.0\\ -0.15\\ -0.05\\
0.1\\ 0.15\\ -0.05\\ -0.15\\ 0.05\\ 0.1\\ -0.1\\ -0.1\\
0.15\\ 0.05\\ -0.15\\ 0.0\\ 0.1\\ -0.1\\ -0.05\\ 0.1\\
0.1\\ -0.1\\ 0.15\\ 0.2\\ -0.1\\ -0.3\\ 0.5\\ 0.3\\
-1.2\\ 1.0\\ -1.5\\ 1.0\\ 1.0\\ -1.0\\ 0.3\\ -0.5\\
0.5\\ -0.3\\ 2.4\\ -1.8\\ 1.0\\ -1.5\\ 1.2\\ 0.6\\
2.4\\ 4.1\\ -4.3\\ 2.7\\ -1.5\\ 2.2\\ -1.0\\ 0.8\\
-0.8\\ 0.5\\ -0.3\\ -0.5\\ 0.3\\ 0.2\\ 1.5\\ -2.0\\
2.2\\ -3.1\\ 3.3\\ -2.8\\ 3.0\\ -0.6\\ -2.3\\ 1.7\\
-1.0\\ 0.5\\ -0.8\\ 0.4\\ 1.0\\ -1.5\\ 1.2\\ -1.7\\
1.3\\ -1.0\\ 1.2\\ -1.0\\ 1.0\\ -1.2\\ 0.6\\ 1.5\\
-1.8\\ 1.5\\ -0.5\\ -1.0\\ 0.5\\ -0.5\\ 0.3\\ -0.1\\
0.05\\ 0\\ 0\\ 0\\ 0\\ 0\\ 0\\ 0\\
0\\ 0\\ 0\\ 0\\ 0\\ 0\\ 0\\ 0\\
0\\ 0\\ 0\\ 0\\ 0\\ 0\\ 0\\ 0\\
0\\ 0\\ 0\\ 0\\ 0\\ 0\\ 0\\ 0\\
0\\ 0\\ 0\\ 0\\ 0\\ 0\\ 0\\ 0\\
0\\ 0\\ 0\\ 0\\ 0\\ 0\\ 0\\ 0\\
0\\ 0\\ 0\\ 0\\ 0\\ 0\\ 0\\ 0\\
0\\ 0\\ 0\\ 0\\ 0\\ 0\\ -0.2\\ 1.5\\
-1.4\\
};
\addplot[rline] coordinates {(63744,-7) (63744,7)};
\addplot[rline] coordinates {(64000,-7) (64000,7)};
\addplot[rline] coordinates {(64256,-7) (64256,7)};
\addplot[rline] coordinates {(64512,-7) (64512,7)};
\addplot[rline] coordinates {(64768,-7) (64768,7)};
\addplot[rline] coordinates {(65024,-7) (65024,7)};
\addplot[rline] coordinates {(65280,-7) (65280,7)};
\addplot[rline] coordinates {(65536,-7) (65536,7)};
\end{axis}
\node[rotate=90, font=\fontsize{11}{13}\selectfont] at (11.25pt,-213.4pt) {Replicate process};
\node[font=\fontsize{11.5}{13}\selectfont] at (383.25pt,-438pt) {Time};
\end{tikzpicture}
\end{document}
